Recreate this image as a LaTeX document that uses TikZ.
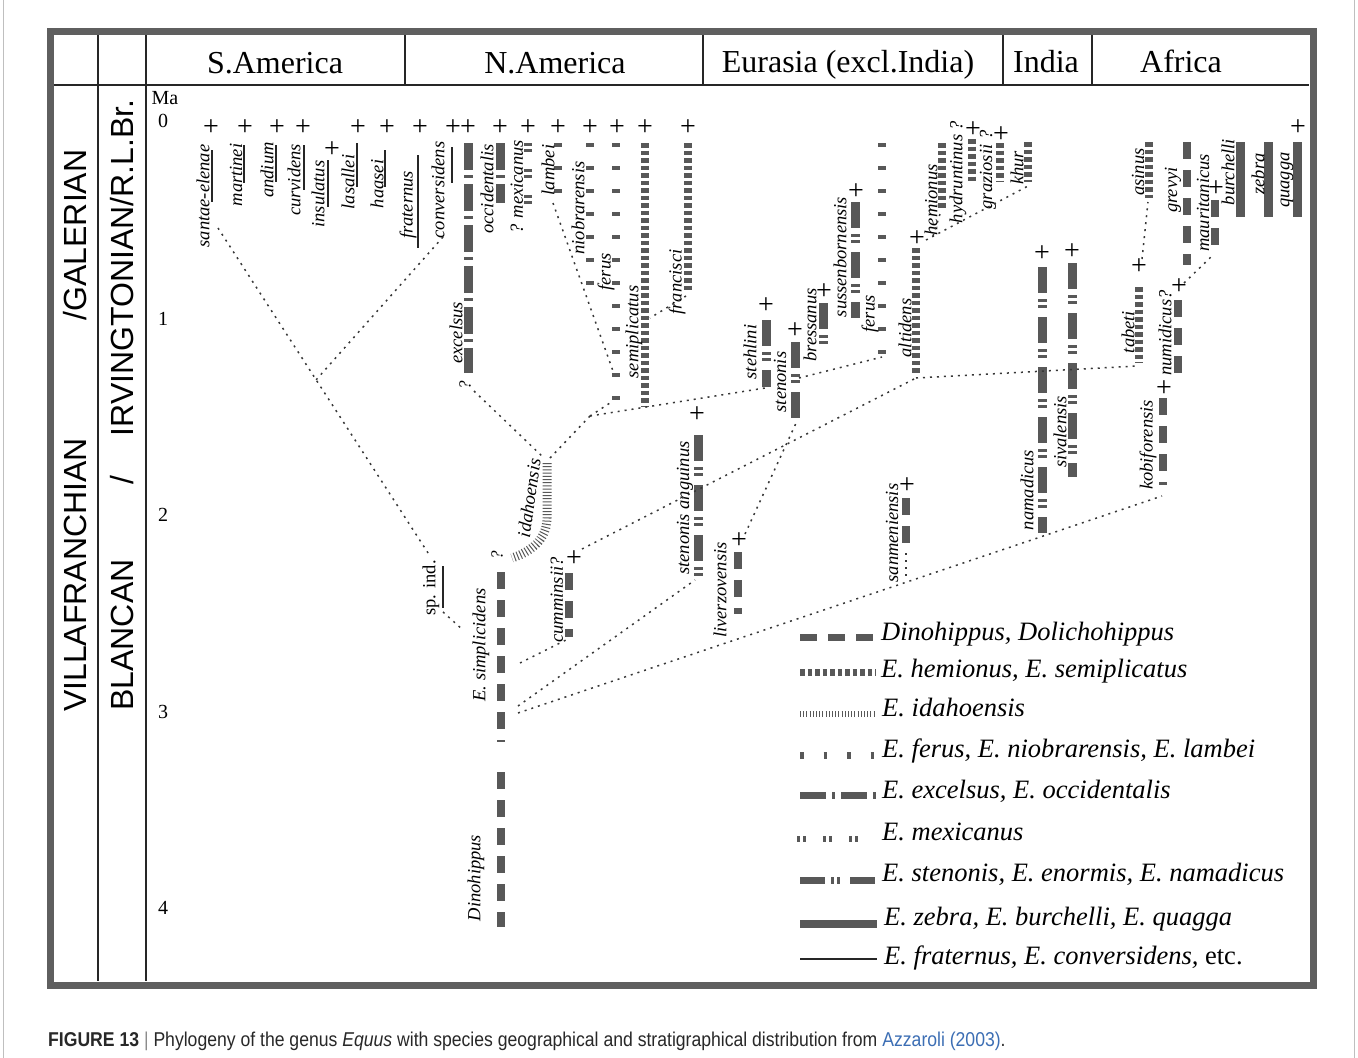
\documentclass[tikz,border=0pt]{standalone}
\usepackage{fontspec}
\usepackage{graphicx}
\setmainfont{Liberation Serif}
\newfontfamily\sansf{Liberation Sans}
\definecolor{barc}{RGB}{88,88,88}
\definecolor{framec}{RGB}{95,95,95}
\definecolor{dotc}{RGB}{55,55,55}
\definecolor{linkc}{RGB}{60,110,180}
\definecolor{capc}{RGB}{40,40,40}
\tikzset{
 sp/.style={font=\fontsize{18.5}{20}\selectfont\itshape, rotate=90, inner sep=0pt},
 spup/.style={font=\fontsize{18.5}{20}\selectfont, rotate=90, inner sep=0pt},
 plus/.style={font=\fontsize{28}{30}\selectfont, inner sep=0pt},
 qm/.style={font=\fontsize{17}{18}\selectfont\itshape, rotate=90, inner sep=0pt},
 barbase/.style={draw=barc, line cap=butt},
 dino/.style={barbase, line width=8pt, dash pattern=on 17pt off 11pt},
 hemi/.style={barbase, line width=8pt, dash pattern=on 4.5pt off 3pt},
 idaho/.style={barbase, line width=9pt, dash pattern=on 1pt off 2.2pt},
 ferusp/.style={barbase, line width=8pt, dash pattern=on 3.5pt off 19.5pt},
 excel/.style={barbase, line width=9pt, dash pattern=on 27pt off 5pt on 3pt off 6pt},
 mexi/.style={barbase, line width=8pt, dash pattern=on 3pt off 3pt on 3pt off 17pt},
 sten/.style={barbase, line width=9pt, dash pattern=on 26pt off 6pt on 3pt off 3pt on 3pt off 9pt},
 zeb/.style={barbase, line width=9pt},
 frat/.style={draw=black!85, line width=1.2pt},
 link/.style={draw=dotc, line width=1.5pt, dash pattern=on 2pt off 5pt},
 head/.style={font=\fontsize{32}{34}\selectfont, anchor=base, inner sep=0pt},
 stage/.style={font=\sansf\fontsize{32}{34}\selectfont, rotate=90, inner sep=0pt},
 ma/.style={font=\fontsize{20}{22}\selectfont, inner sep=0pt},
 leg/.style={font=\fontsize{26.5}{28}\selectfont\itshape, anchor=base west, inner sep=0pt},
 rule/.style={line width=1.2pt, draw=black!85},
}
\begin{document}
\begin{tikzpicture}[x=1pt,y=-1pt]
\useasboundingbox (0,0) rectangle (1358,1058);
\fill[white] (0,0) rectangle (1358,1058);
\draw[black!25, line width=1pt] (3,0) -- (3,1058) (1354,0) -- (1354,1058);

% ---------- frame ----------
\draw[framec, line width=7pt] (50,31) rectangle (1313,985);
\draw[rule] (54,85) -- (1309,85);
\draw[rule] (98,35) -- (98,981);
\draw[rule] (146,35) -- (146,981);
\foreach \x in {405,703,1003,1092} \draw[rule] (\x,35) -- (\x,85);

\node[head] (hSA) at (275,73) {S.America};
\node[head] (hNA) at (555,73) {N.America};
\node[head] (hEU) at (848,72) {Eurasia (excl.India)};
\node[head] (hIN) at (1046,72) {India};
\node[head] (hAF) at (1181,72) {Africa};

\node[stage] (sVil) at (75,575) {VILLAFRANCHIAN};
\node[stage] (sGal) at (75,235) {/GALERIAN};
\node[stage] (sBla) at (122,635) {BLANCAN};
\node[stage] (sSl) at (122,480) {/};
\node[stage] (sIrv) at (122,268) {IRVINGTONIAN/R.L.Br.};

\node[ma] (ma) at (165,98) {Ma};
\node[ma] (m0) at (163,121) {0};
\node[ma] (m1) at (163,319) {1};
\node[ma] (m2) at (163,515) {2};
\node[ma] (m3) at (163,712) {3};
\node[ma] (m4) at (163,908) {4};

% ---------- South America ----------
\draw[frat] (212,150) -- (212,202);
\node[sp] (Lsan) at (203,196) {santae-elenae};
\node[plus] (Psan) at (211,128) {+};
\draw[frat] (244,145) -- (244,183);
\node[sp] (Lmar) at (236,175) {martinei};
\node[plus] (Pmar) at (245,128) {+};
\draw[frat] (276,145) -- (276,182);
\node[sp] (Land) at (267,170) {andium};
\node[plus] (Pand) at (277,128) {+};
\draw[frat] (304,145) -- (304,190);
\node[sp] (Lcur) at (294,180) {curvidens};
\node[plus] (Pcur) at (303,128) {+};
\draw[frat] (328,160) -- (328,207);
\node[sp] (Lins) at (318,194) {insulatus};
\node[plus] (Pins) at (332,150) {+};
\draw[frat] (357,143) -- (357,187);
\node[sp] (Llas) at (348,182) {lasallei};
\node[plus] (Plas) at (358,128) {+};
\draw[frat] (385,150) -- (385,187);
\node[sp] (Lhaa) at (377,184) {haasei};
\node[plus] (Phaa) at (387,128) {+};
\draw[frat] (418,155) -- (418,248);
\node[sp] (Lfra) at (408,205) {fraternus};
\node[plus] (Pfra) at (420,128) {+};
\draw[frat] (452,147) -- (452,183);
\node[sp] (Lcon) at (438,190) {conversidens};
\node[plus] (Pcon) at (453,128) {+};

% ---------- North America ----------
\draw[excel] (468,143) -- (468,373);
\node[sp] (Lexc) at (456,333) {excelsus};
\node[plus] (Pexc) at (468,128) {+};
\node[qm] (Qexc) at (465,385) {?};
\draw[excel] (500,143) -- (500,203);
\node[sp] (Locc) at (487,189) {occidentalis};
\node[plus] (Pocc) at (500,128) {+};
\draw[mexi] (528,143) -- (528,210);
\node[sp] (Lmex) at (517,187) {? mexicanus};
\node[plus] (Pmex) at (528,128) {+};
\draw[ferusp] (558,143) -- (558,195);
\node[sp] (Llam) at (548,170) {lambei};
\node[plus] (Plam) at (558,128) {+};
\draw[ferusp] (590,143) -- (590,287);
\node[sp] (Lnio) at (578,208) {niobrarensis};
\node[plus] (Pnio) at (590,128) {+};
\draw[ferusp] (616,143) -- (616,402);
\node[sp] (Lfer) at (606,272) {ferus};
\node[plus] (Pfer) at (617,128) {+};
\draw[hemi] (645,143) -- (645,406);
\node[sp] (Lsem) at (634,332) {semiplicatus};
\node[plus] (Psem) at (645,128) {+};
\draw[hemi] (688,143) -- (688,293);
\node[sp] (Lfrc) at (677,282) {francisci};
\node[plus] (Pfrc) at (688,128) {+};

\draw[idaho] (547,463) -- (547,518) .. controls (547,540) and (530,552) .. (512,558);
\node[sp, rotate=-8] (Lida) at (529,498) {idahoensis};

\draw[dino] (501,572) -- (501,742);
\draw[dino] (501,772) -- (501,927);
\node[sp] (Lsim) at (481,645) {E. simplicidens};
\node[sp] (Ldin) at (476,878) {Dinohippus};
\node[qm] (Qsim) at (497,555) {?};
\draw[frat] (443,566) -- (443,608);
\node[spup] (Lspi) at (431,588) {sp. ind.};
\draw[dino] (569,573) -- (569,637);
\node[sp] (Lcum) at (557,600) {cumminsii?};
\node[plus] (Pcum) at (574,559) {+};

% ---------- Eurasia ----------
\draw[sten] (698,435) -- (698,577);
\node[sp] (Lsta) at (685,508) {stenonis anguinus};
\node[plus] (Psta) at (697,415) {+};
\draw[dino] (738,552) -- (738,614);
\node[sp] (Lliv) at (720,590) {liverzovensis};
\node[plus] (Pliv) at (739,541) {+};
\draw[sten] (766,320) -- (766,387);
\node[sp] (Lste) at (750,352) {stehlini};
\node[plus] (Pste) at (766,306) {+};
\draw[sten] (795,342) -- (795,418);
\node[sp] (Lstn) at (780,382) {stenonis};
\node[plus] (Pstn) at (795,331) {+};
\draw[sten] (823,303) -- (823,346);
\node[sp] (Lbre) at (810,325) {bressanus};
\node[plus] (Pbre) at (824,292) {+};
\draw[sten] (855,202) -- (855,318);
\node[sp] (Lsus) at (840,257) {sussenbornensis};
\node[plus] (Psus) at (856,192) {+};
\draw[ferusp] (882,143) -- (882,354);
\node[sp] (Lfeu) at (870,314) {ferus};
\draw[hemi] (916,248) -- (916,373);
\node[sp] (Lalt) at (905,328) {altidens};
\node[plus] (Palt) at (917,239) {+};
\draw[hemi] (942,143) -- (942,208);
\node[sp] (Lhem) at (931,200) {hemionus};
\draw[hemi] (972,139) -- (972,182);
\node[sp] (Lhyd) at (958,172) {hydruntinus ?};
\node[plus] (Phyd) at (973,130) {+};
\draw[hemi] (1000,143) -- (1000,182);
\node[sp] (Lgra) at (988,170) {graziosii ?};
\node[plus] (Pgra) at (1001,135) {+};
\draw[dino] (906,498) -- (906,543);
\draw[link] (906,553) -- (906,580);
\node[sp] (Lsan2) at (892,533) {sanmeniensis};
\node[plus] (Psan2) at (907,486) {+};

% ---------- India ----------
\draw[hemi] (1028,142) -- (1028,182);
\node[sp] (Lkhu) at (1017,168) {khur};
\draw[sten] (1042,267) -- (1042,533);
\node[sp] (Lnam) at (1027,490) {namadicus};
\node[plus] (Pnam) at (1042,254) {+};
\draw[sten] (1072,263) -- (1072,477);
\node[sp] (Lsiv) at (1060,432) {sivalensis};
\node[plus] (Psiv) at (1072,252) {+};

% ---------- Africa ----------
\draw[dino] (1163,398) -- (1163,485);
\node[sp] (Lkob) at (1148,445) {kobiforensis};
\node[plus] (Pkob) at (1164,389) {+};
\draw[hemi] (1139,287) -- (1139,363);
\node[sp] (Ltab) at (1128,332) {tabeti};
\node[plus] (Ptab) at (1139,267) {+};
\draw[hemi] (1149,142) -- (1149,198);
\node[sp] (Lasi) at (1138,172) {asinus};
\draw[dino] (1178,300) -- (1178,373);
\node[sp] (Lnum) at (1165,333) {numidicus?};
\node[plus] (Pnum) at (1179,287) {+};
\draw[dino] (1187,142) -- (1187,265);
\node[sp] (Lgre) at (1173,190) {grevyi};
\draw[dino] (1215,200) -- (1215,245);
\node[sp] (Lmau) at (1203,203) {mauritanicus};
\node[plus] (Pmau) at (1216,189) {+};
\draw[zeb] (1240,142) -- (1240,217);
\node[sp] (Lbur) at (1228,172) {burchelli};
\draw[zeb] (1268,142) -- (1268,217);
\node[sp] (Lzeb) at (1258,174) {zebra};
\draw[zeb] (1297,142) -- (1297,217);
\node[sp] (Lqua) at (1287,180) {quagga};
\node[plus] (Pqua) at (1298,128) {+};

% ---------- connector end points ----------
\coordinate (santaeB) at (218,228);
\coordinate (spindT) at (430,556);
\coordinate (jSA) at (316,380);
\coordinate (convB) at (443,237);
\coordinate (spindB) at (443,612);
\coordinate (simpL) at (463,630);
\coordinate (excQ) at (474,391);
\coordinate (idaT) at (544,458);
\coordinate (idaT2) at (550,458);
\coordinate (jNA) at (590,416);
\coordinate (ferusB) at (613,401);
\coordinate (stehB) at (765,388);
\coordinate (lambB) at (553,203);
\coordinate (ferusM) at (613,371);
\coordinate (franB) at (686,296);
\coordinate (semiM) at (650,318);
\coordinate (stenM) at (799,378);
\coordinate (ferEB) at (882,357);
\coordinate (cummT) at (582,549);
\coordinate (altB) at (916,378);
\coordinate (tabB) at (1137,366);
\coordinate (altJ) at (926,240);
\coordinate (khurB) at (1028,186);
\coordinate (altJ2) at (933,236);
\coordinate (hemB) at (940,214);
\coordinate (simp1) at (520,663);
\coordinate (cummB) at (566,640);
\coordinate (simp2) at (518,706);
\coordinate (stanB) at (695,580);
\coordinate (simp3) at (518,713);
\coordinate (kobB) at (1162,496);
\coordinate (livT) at (745,534);
\coordinate (stenB) at (797,421);
\coordinate (tabT) at (1142,259);
\coordinate (asiB) at (1148,202);
\coordinate (numT) at (1184,283);
\coordinate (mauB) at (1213,255);

\draw[link] (santaeB) -- (spindT);
\draw[link] (convB) -- (jSA);
\draw[link] (spindB) -- (simpL);
\draw[link] (excQ) -- (idaT);
\draw[link] (idaT2) -- (jNA);
\draw[link] (jNA) -- (ferusB);
\draw[link] (jNA) -- (stehB);
\draw[link] (lambB) -- (ferusM);
\draw[link] (franB) -- (semiM);
\draw[link] (stenM) -- (ferEB);
\draw[link] (cummT) -- (altB);
\draw[link] (altB) -- (tabB);
\draw[link] (altJ) -- (khurB);
\draw[link] (altJ2) -- (hemB);
\draw[link] (simp1) -- (cummB);
\draw[link] (simp2) -- (stanB);
\draw[link] (simp3) -- (kobB);
\draw[link] (livT) -- (stenB);
\draw[link] (tabT) -- (asiB);
\draw[link] (numT) -- (mauB);

% ---------- legend ----------
\draw[dino, line width=7pt] (800,637) -- (876,637);
\node[leg] (g1) at (881,640) {Dinohippus, Dolichohippus};
\draw[hemi, line width=7pt] (800,672) -- (876,672);
\node[leg] (g2) at (881,677) {E. hemionus, E. semiplicatus};
\draw[idaho, line width=6pt] (800,714) -- (876,714);
\node[leg] (g3) at (882,716) {E. idahoensis};
\draw[ferusp, line width=7pt, dash pattern=on 3.5pt off 20pt] (800,755) -- (876,755);
\node[leg] (g4) at (882,757) {E. ferus, E. niobrarensis, E. lambei};
\draw[excel, line width=7pt, dash pattern=on 26pt off 6pt on 3pt off 6pt] (800,795) -- (876,795);
\node[leg] (g5) at (882,798) {E. excelsus, E. occidentalis};
\draw[mexi, line width=6pt, dash pattern=on 3pt off 3pt on 3pt off 17pt] (797,839) -- (864,839);
\node[leg] (g6) at (882,840) {E. mexicanus};
\draw[sten, line width=7pt, dash pattern=on 25pt off 6pt on 2.5pt off 3.5pt on 2.5pt off 10.5pt] (800,880) -- (876,880);
\node[leg] (g7) at (882,881) {E. stenonis, E. enormis, E. namadicus};
\draw[zeb, line width=8pt] (800,924) -- (877,924);
\node[leg] (g8) at (884,925) {E. zebra, E. burchelli, E. quagga};
\draw[frat] (800,959) -- (877,959);
\node[leg] (g9) at (884,964) {E. fraternus, E. conversidens, \upshape etc.};

% ---------- caption ----------
\node[anchor=base west, inner sep=0pt, text=capc, font=\sansf\fontsize{20}{22}\selectfont] (cap) at (48,1046)
 {\scalebox{0.88}[1]{\textbf{FIGURE 13} {\color{black!45}|} Phylogeny of the genus \textit{Equus} with species geographical and stratigraphical distribution from \textcolor{linkc}{Azzaroli (2003)}.}};
\end{tikzpicture}
\end{document}
